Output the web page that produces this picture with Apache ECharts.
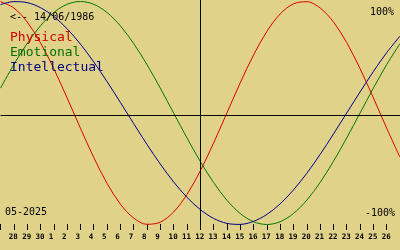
<!DOCTYPE html>
<html><head><meta charset="utf-8">
<script src="https://cdn.jsdelivr.net/npm/echarts@6/dist/echarts.min.js"></script>
<style>html,body{margin:0;padding:0;background:#E1D28A;}#c{width:400px;height:250px;}</style>
</head><body><div id="c"></div>
<script>
// day-of-month categories, 27 Apr .. 27 May 2025
const days = ["27","28","29","30","1","2","3","4","5","6","7","8","9","10","11","12","13","14","15","16","17","18","19","20","21","22","23","24","25","26","27"];
const physical = [0.998,0.942,0.817,0.631,0.398,0.136,-0.136,-0.398,-0.631,-0.817,-0.942,-0.998,-0.979,-0.888,-0.731,-0.520,-0.270,0,0.270,0.520,0.731,0.888,0.979,0.998,0.942,0.817,0.631,0.398,0.136,-0.136,-0.398];
const emotional = [0.223,0.434,0.623,0.782,0.901,0.975,1,0.975,0.901,0.782,0.623,0.434,0.223,0,-0.223,-0.434,-0.623,-0.782,-0.901,-0.975,-1,-0.975,-0.901,-0.782,-0.623,-0.434,-0.223,0,0.223,0.434,0.623];
const intellectual = [0.972,0.999,0.990,0.945,0.866,0.756,0.618,0.458,0.282,0.095,-0.095,-0.282,-0.458,-0.618,-0.756,-0.866,-0.945,-0.990,-0.999,-0.972,-0.910,-0.815,-0.690,-0.541,-0.372,-0.189,0,0.189,0.372,0.541,0.690];
const labelIndices = [1,2,3,4,5,6,7,8,9,10,11,12,13,14,15,16,17,18,19,20,21,22,23,24,25,26,27,28,29];
const todayIndex = 15; // 12 May
const birthText = "<-- 14/06/1986";
const monthText = "05-2025";
const legendNames = ["Physical","Emotional","Intellectual"];

const colors = ["#DD0000","#007800","#000088"];
const textColors = ["#D00000","#007000","#000080"];
const yMax = 113/111.5, yMin = (113-230)/111.5, baseLine = (113-115.5)/111.5;
const mono = "DejaVu Sans Mono";
const labelShift = 0.375; // labels start ~5px left of their tick

const chart = echarts.init(document.getElementById('c'), null, {renderer:'canvas'});
const mk = (name, data, i) => ({
  type:'line', name, data, xAxisIndex:0, yAxisIndex:0, symbol:'none', smooth:0.33,
  lineStyle:{color:colors[i], width:1}, silent:true, clip:false,
  markLine: i===0 ? {silent:true, symbol:'none', label:{show:false},
    lineStyle:{color:'#000', width:1, type:'solid'},
    data:[{xAxis: todayIndex},{yAxis: baseLine}]} : undefined
});
chart.setOption({
  backgroundColor:'#E1D28A',
  animation:false,
  grid:[
    {left:0.5, top:0, width:400, height:230},
    {left:0.5, top:0, width:400, height:230}
  ],
  xAxis:[
    {type:'category', data:days, boundaryGap:false, gridIndex:0, position:'bottom',
     axisLine:{show:false, onZero:false}, splitLine:{show:false},
     axisTick:{show:true, inside:true, length:6, interval:0, lineStyle:{color:'#000'}},
     axisLabel:{show:false}},
    {type:'value', min:labelShift, max:days.length-1+labelShift, gridIndex:1, position:'bottom',
     axisLine:{show:false, onZero:false}, axisTick:{show:false}, splitLine:{show:false},
     axisLabel:{show:true, customValues:labelIndices, formatter:(v)=>days[Math.round(v)],
       align:'left', verticalAlign:'middle', margin:7.5,
       fontFamily:mono, fontSize:7.5, fontWeight:'bold', color:'#000'}}
  ],
  yAxis:[
    {type:'value', min:yMin, max:yMax, gridIndex:0, show:false},
    {type:'value', min:yMin, max:yMax, gridIndex:1, show:false}
  ],
  title:[
    {text:birthText, left:10, top:12, padding:0, textStyle:{fontFamily:mono, fontSize:10, fontWeight:'normal', color:'#000'}},
    {text:legendNames[0], left:10, top:31, padding:0, textStyle:{fontFamily:mono, fontSize:13, fontWeight:'normal', color:textColors[0]}},
    {text:legendNames[1], left:10, top:46, padding:0, textStyle:{fontFamily:mono, fontSize:13, fontWeight:'normal', color:textColors[1]}},
    {text:legendNames[2], left:10, top:61, padding:0, textStyle:{fontFamily:mono, fontSize:13, fontWeight:'normal', color:textColors[2]}},
    {text:'100%', right:6, top:7, padding:0, textStyle:{fontFamily:mono, fontSize:10, fontWeight:'normal', color:'#000'}},
    {text:'-100%', right:5, top:208, padding:0, textStyle:{fontFamily:mono, fontSize:10, fontWeight:'normal', color:'#000'}},
    {text:monthText, left:5, top:207, padding:0, textStyle:{fontFamily:mono, fontSize:10, fontWeight:'normal', color:'#000'}}
  ],
  series:[
    mk('Physical', physical, 0),
    mk('Emotional', emotional, 1),
    mk('Intellectual', intellectual, 2)
  ]
});
</script></body></html>
